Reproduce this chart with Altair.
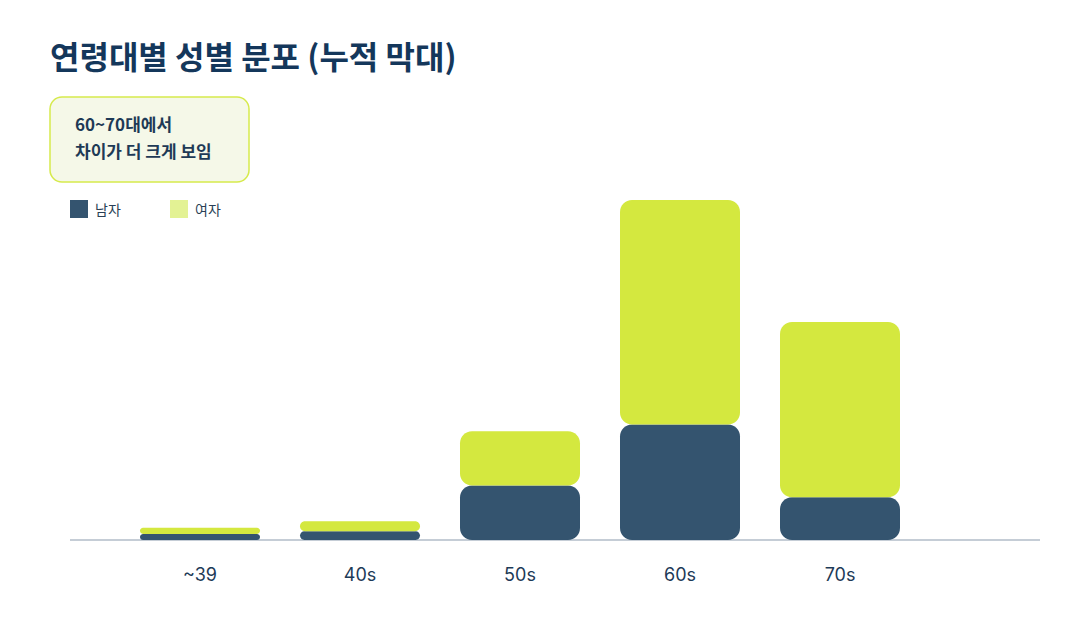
import altair as alt
import pandas as pd

# ---- data ----
ages = ["~39", "40s", "50s", "60s", "70s"]
male = [1.8, 2.6, 16, 34, 12.6]
female = [1.8, 2.9, 16, 66, 51.5]
series = ["남자", "여자"]
colors = ["#34546f", "#d4e83f"]
legend_colors = ["#34546f", "#e3f294"]

title_text = ["연령대별 성별 분포 (누적 막대)"]
note_lines = ["60~70대에서", "차이가 더 크게 보임"]

rows = []
for a, m, f in zip(ages, male, female):
    rows.append({"age": a, "sex": series[0], "value": m, "ord": 0})
    rows.append({"age": a, "sex": series[1], "value": f, "ord": 1})
bars_df = pd.DataFrame(rows)

W, H = 970, 520
KFONT = "Noto Sans CJK KR"
NAVY = "#14375b"

base_rule = alt.Chart(pd.DataFrame({"k": [0]})).mark_rule(
    color="#c5cdd6", strokeWidth=2
).encode(x=alt.value(0), x2=alt.value(W), y=alt.value(H))

bars = alt.Chart(bars_df).transform_stack(
    stack="value", groupby=["age"], as_=["v0", "v1"],
    sort=[alt.SortField("ord", order="ascending")],
).mark_bar(cornerRadius=12).encode(
    x=alt.X(
        "age:N",
        sort=ages,
        scale=alt.Scale(range=[50, 850], paddingInner=0.25, paddingOuter=0.125),
        axis=alt.Axis(
            title=None, domain=False, ticks=False, tickSize=0, grid=False,
            labelAngle=0, labelFont="Inter", labelFontSize=18,
            labelColor="#1d3a57", labelPadding=26,
        ),
    ),
    y=alt.Y("v0:Q", scale=alt.Scale(domain=[0, H / 3.4], nice=False), axis=None),
    y2="v1:Q",
    color=alt.Color("sex:N", scale=alt.Scale(domain=series, range=colors), legend=None),
)

title = alt.Chart(pd.DataFrame({"t": title_text})).mark_text(
    align="left", baseline="alphabetic", font=KFONT, fontSize=32,
    fontWeight="bold", color=NAVY,
).encode(text="t:N", x=alt.value(-20), y=alt.value(49))

box = alt.Chart(pd.DataFrame({"k": [0]})).mark_rect(
    cornerRadius=12, fill="#f5f8e8", stroke="#d6ea4c", strokeWidth=1.5,
).encode(x=alt.value(-20), x2=alt.value(179), y=alt.value(77), y2=alt.value(162))

note1 = alt.Chart(pd.DataFrame({"t": [note_lines[0]]})).mark_text(
    align="left", baseline="alphabetic", font=KFONT, fontSize=17,
    fontWeight="bold", color="#1e3a56",
).encode(text="t:N", x=alt.value(5), y=alt.value(111))
note2 = alt.Chart(pd.DataFrame({"t": [note_lines[1]]})).mark_text(
    align="left", baseline="alphabetic", font=KFONT, fontSize=17,
    fontWeight="bold", color="#1e3a56",
).encode(text="t:N", x=alt.value(5), y=alt.value(138))

leg_layers = []
for i, (s, c) in enumerate(zip(series, legend_colors)):
    x0 = i * 100
    sw = alt.Chart(pd.DataFrame({"k": [0]})).mark_rect(fill=c).encode(
        x=alt.value(x0), x2=alt.value(x0 + 18), y=alt.value(180), y2=alt.value(198)
    )
    lb = alt.Chart(pd.DataFrame({"t": [s]})).mark_text(
        align="left", baseline="alphabetic", font=KFONT, fontSize=14, color="#2a3f55",
    ).encode(text="t:N", x=alt.value(x0 + 25), y=alt.value(195))
    leg_layers += [sw, lb]

chart = alt.layer(base_rule, bars, title, box, note1, note2, *leg_layers).properties(
    width=W, height=H,
    padding={"left": 62, "top": 12, "right": 10, "bottom": 60},
    autosize=alt.AutoSizeParams(type="none"),
    background="white",
).configure_view(stroke=None)

chart.save("out.html", embed_options={"renderer": "svg", "actions": False})
